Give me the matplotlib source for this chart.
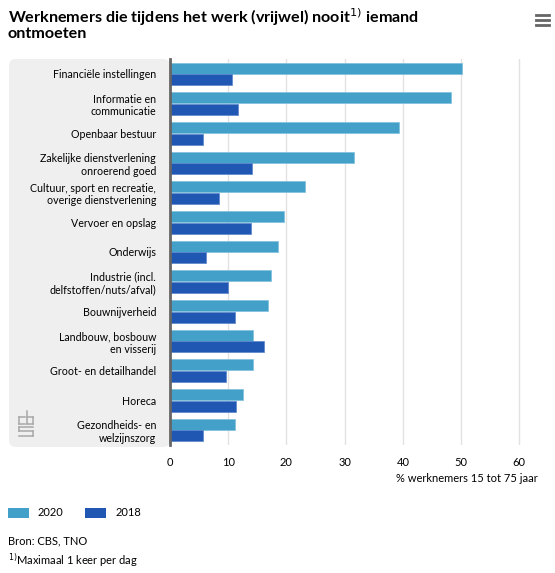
import matplotlib
matplotlib.use("Agg")
import matplotlib.pyplot as plt
from matplotlib.patches import FancyBboxPatch, Rectangle
from matplotlib.lines import Line2D
import numpy as np

categories = [
    "Financiële instellingen",
    "Informatie en\ncommunicatie",
    "Openbaar bestuur",
    "Zakelijke dienstverlening\nonroerend goed",
    "Cultuur, sport en recreatie,\noverige dienstverlening",
    "Vervoer en opslag",
    "Onderwijs",
    "Industrie (incl.\ndelfstoffen/nuts/afval)",
    "Bouwnijverheid",
    "Landbouw, bosbouw\nen visserij",
    "Groot- en detailhandel",
    "Horeca",
    "Gezondheids- en\nwelzijnszorg",
]
values_2020 = [50.1, 48.2, 39.3, 31.6, 23.2, 19.5, 18.6, 17.3, 16.8, 14.2, 14.2, 12.6, 11.1]
values_2018 = [10.6, 11.7, 5.7, 14.1, 8.5, 14.0, 6.1, 9.9, 11.2, 16.1, 9.7, 11.4, 5.6]
xticks = [0, 10, 20, 30, 40, 50, 60]

c2020 = "#43a0c9"
c2018 = "#1f57b3"
font = "Lato"

W, H = 555, 573
fig = plt.figure(figsize=(W / 100, H / 100), dpi=100)

def fx(px):
    return px / W

def fy(py):
    return 1 - py / H

# grey label background
bg = FancyBboxPatch((fx(9), fy(447)), fx(170) - fx(9), fy(59) - fy(447),
                    boxstyle="round,pad=0,rounding_size=0.012",
                    transform=fig.transFigure, facecolor="#efefef",
                    edgecolor="none", zorder=-5)
fig.patches.append(bg)

ax = fig.add_axes([fx(170), fy(445), fx(521) - fx(170), fy(59) - fy(445)])
ax.set_zorder(2)
ax.set_facecolor("none")
n = len(categories)
y = np.arange(n)
h = 0.37
ax.barh(y - h / 2 - 0.01, values_2020, height=h, color=c2020, edgecolor="#7fc0de",
        linewidth=0.5, label="2020", zorder=3)
ax.barh(y + h / 2 + 0.01, values_2018, height=h, color=c2018, edgecolor="#5a84cc",
        linewidth=0.5, label="2018", zorder=3)
ax.set_ylim(n - 0.5, -0.5)
ax.set_xlim(0, 60.3)
ax.set_xticks(xticks)
ax.set_xticklabels([str(t) for t in xticks], fontfamily=font, fontsize=8)
ax.set_yticks(y)
ax.set_yticklabels(categories, fontfamily=font, fontsize=7.7, linespacing=1.2)
ax.tick_params(axis="y", length=0, pad=10)
ax.tick_params(axis="x", length=0, pad=9)
ax.grid(axis="x", color="#e2e2e2", linewidth=1, zorder=0)
for s in ["top", "right", "bottom"]:
    ax.spines[s].set_visible(False)
ax.spines["left"].set_color("#666666")
ax.spines["left"].set_linewidth(2)
ax.spines["left"].set_zorder(4)

# x-axis label
fig.text(fx(538), fy(478), "% werknemers 15 tot 75 jaar", ha="right", va="center",
         fontfamily=font, fontsize=8)

# title
fig.text(fx(8), fy(6), "Werknemers die tijdens het werk (vrijwel) nooit$^{1)}$ iemand\nontmoeten",
         ha="left", va="top", fontfamily=font, fontweight="bold", fontsize=11.6,
         linespacing=0.95)

# hamburger icon
for yy in [15, 20, 25]:
    fig.add_artist(Line2D([fx(536), fx(549)], [fy(yy), fy(yy)], color="#666666",
                          linewidth=2.0, transform=fig.transFigure))

# legend
fig.patches.append(Rectangle((fx(8), fy(518)), fx(21), fy(508) - fy(518),
                             transform=fig.transFigure, facecolor=c2020, edgecolor="none"))
fig.text(fx(38), fy(513), "2020", ha="left", va="center", fontfamily=font, fontsize=8)
fig.patches.append(Rectangle((fx(85), fy(518)), fx(21), fy(508) - fy(518),
                             transform=fig.transFigure, facecolor=c2018, edgecolor="none"))
fig.text(fx(116), fy(513), "2018", ha="left", va="center", fontfamily=font, fontsize=8)

# source & footnote
fig.text(fx(8), fy(541), "Bron: CBS, TNO", ha="left", va="center", fontfamily=font, fontsize=8)
fig.text(fx(8), fy(561), "$^{1)}$Maximaal 1 keer per dag", ha="left", va="center",
         fontfamily=font, fontsize=8)

# cbs logo (simplified)
lc = "#a8a8a8"
def L(x0, y0, x1, y1):
    fig.add_artist(Line2D([fx(x0), fx(x1)], [fy(y0), fy(y1)], color=lc, linewidth=1.1,
                          transform=fig.transFigure))
# c
L(19, 417, 25, 417); L(19, 417, 19, 424); L(19, 424, 25, 424)
# b
L(27, 411, 27, 424); L(27, 417, 33, 417); L(33, 417, 33, 424); L(27, 424, 33, 424)
# s
L(19, 427, 33, 427); L(19, 427, 19, 431); L(19, 431, 33, 431); L(33, 431, 33, 436)
L(19, 436, 33, 436)

fig.savefig("out.png", dpi=100)
